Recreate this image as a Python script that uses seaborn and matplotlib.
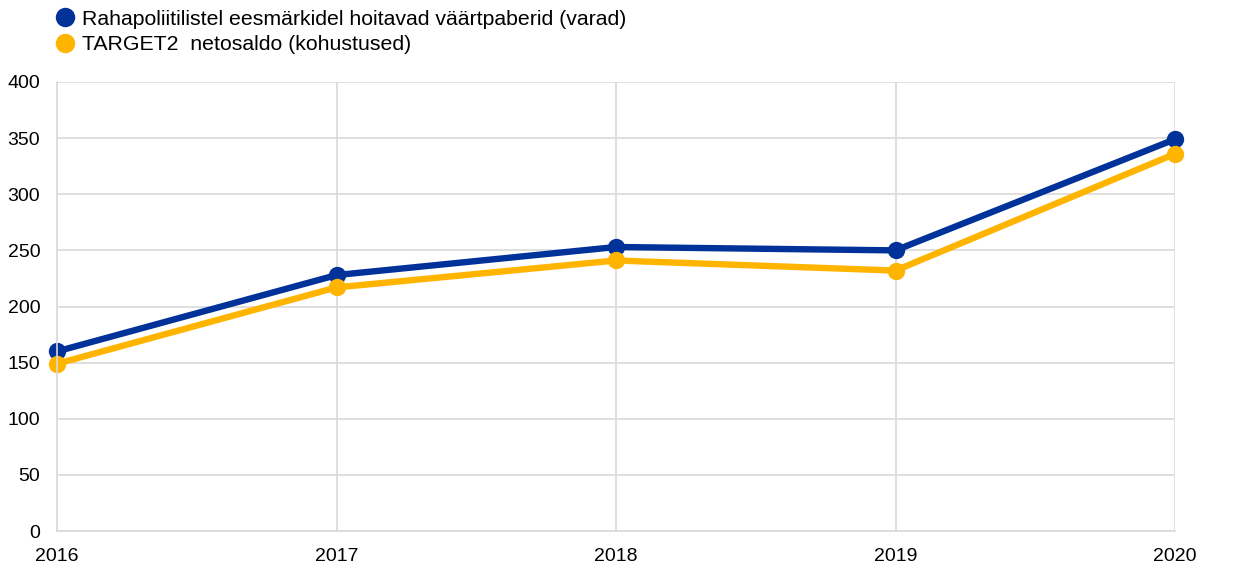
import pandas as pd
import matplotlib
matplotlib.use("Agg")
import matplotlib.pyplot as plt
import seaborn as sns
from matplotlib.lines import Line2D

sns.set_style("white")
plt.rcParams["font.family"] = ["Liberation Sans", "DejaVu Sans"]

# data
years = [2016, 2017, 2018, 2019, 2020]
assets = [160, 228, 253, 250, 349]
target2 = [149, 217, 241, 232, 336]
labels = [
    "Rahapoliitilistel eesmärkidel hoitavad väärtpaberid (varad)",
    "TARGET2  netosaldo (kohustused)",
]
colors = ["#003299", "#FFB400"]

df = pd.concat([
    pd.DataFrame({"year": years, "value": assets, "series": labels[0]}),
    pd.DataFrame({"year": years, "value": target2, "series": labels[1]}),
])

fig = plt.figure(figsize=(12.4, 5.81), dpi=100)
ax = fig.add_axes([57 / 1240, 1 - 531 / 581, (1175 - 57) / 1240, (531 - 82) / 581])

sns.lineplot(data=df, x="year", y="value", hue="series", palette=colors,
             marker="o", markersize=12.5, markeredgewidth=0, linewidth=4.6,
             ax=ax, legend=False)

ax.set_xlim(2016, 2020)
ax.set_ylim(0, 400)
ax.set_xticks(years)
ax.set_yticks(range(0, 401, 50))
ax.set_xlabel("")
ax.set_ylabel("")
ax.grid(True, color="#d9d9d9", linewidth=1.2)
ax.set_axisbelow(True)
for s in ["top", "right"]:
    ax.spines[s].set_visible(False)
for s in ["left", "bottom"]:
    ax.spines[s].set_color("#d9d9d9")
    ax.spines[s].set_linewidth(1.2)
ax.tick_params(axis="both", length=0, labelsize=14, colors="black")
ax.tick_params(axis="x", pad=12)
ax.tick_params(axis="y", pad=12)
for p in ax.get_lines():
    p.set_clip_on(False)

handles = [Line2D([], [], linestyle="none", marker="o", markersize=14,
                  markerfacecolor=c, markeredgewidth=0) for c in colors]
leg = fig.legend(handles, labels, loc="upper left", bbox_to_anchor=(0.027, 1.016),
                 frameon=False, fontsize=15.3, handletextpad=0.2, labelspacing=0.3,
                 handlelength=1.2)
for t in leg.get_texts():
    t.set_color("black")

fig.savefig("out.png", dpi=100)
